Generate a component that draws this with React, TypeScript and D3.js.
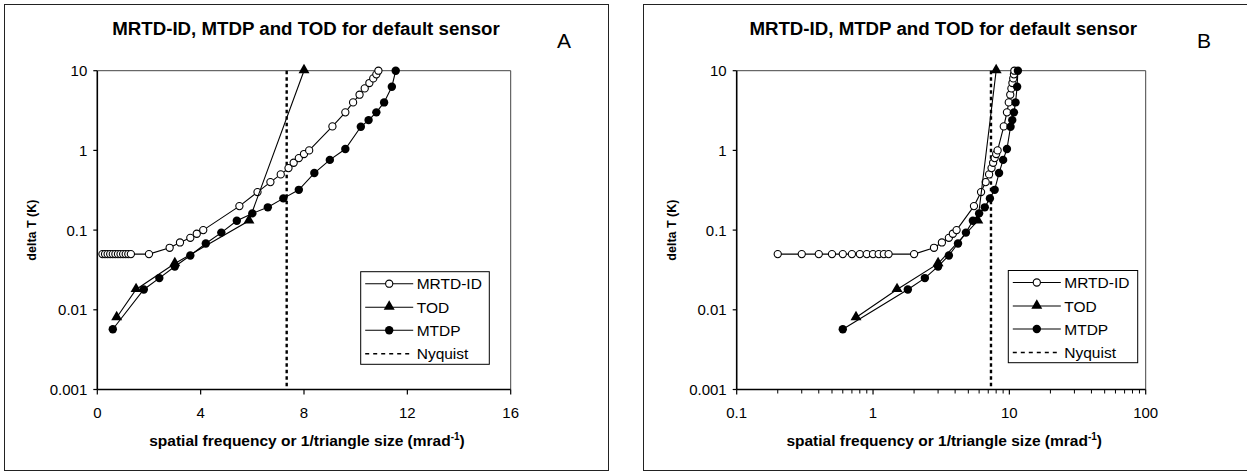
import React from "react";
import * as d3 from "d3";

const mrtdX = [0.2,0.3,0.4,0.5,0.6,0.7,0.8,0.9,1.0,1.1,1.2,1.3,2.0,2.8,3.2,3.6,3.85,4.1,5.5,6.2,6.7,7.1,7.4,7.6,7.8,8.0,8.2,9.1,9.6,9.9,10.15,10.35,10.53,10.68,10.8,10.88];
const mrtdY = [0.05,0.05,0.05,0.05,0.05,0.05,0.05,0.05,0.05,0.05,0.05,0.05,0.05,0.06,0.07,0.08,0.09,0.1,0.2,0.3,0.4,0.5,0.6,0.7,0.8,0.9,1,2,3,4,5,6,7,8,9,10];
const todX = [0.75,1.5,3.0,5.87,8.0];
const todY = [0.008,0.018,0.038,0.131,10];
const mtdpX = [0.6,1.8,2.4,3.0,3.6,4.2,4.8,5.4,6.0,6.6,7.2,7.8,8.4,9.0,9.6,10.2,10.5,10.8,11.1,11.4,11.55];
const mtdpY = [0.0057,0.018,0.025,0.035,0.048,0.068,0.093,0.131,0.162,0.193,0.25,0.32,0.52,0.76,1.04,1.98,2.4,3.0,4.0,6.3,10];
const nyquist = 7.33;
const yTicks = [0.001,0.01,0.1,1,10];
const yTickLabels = ["0.001","0.01","0.1","1","10"];
const linTicks = [0,4,8,12,16];
const logMajor = [0.1,1,10,100];
const logMajorLabels = ["0.1","1","10","100"];
const legendNames = ["MRTD-ID","TOD","MTDP","Nyquist"];
const title = "MRTD-ID, MTDP and TOD for default sensor";

const FONT = "'Liberation Sans', Arial, sans-serif";

function Marker({ kind, x, y }: { kind: string; x: number; y: number }) {
  if (kind === "open") return <circle cx={x} cy={y} r={3.6} fill="#fff" stroke="#000" strokeWidth={1.1} />;
  if (kind === "filled") return <circle cx={x} cy={y} r={4.2} fill="#000" />;
  const p = d3.symbol().type(d3.symbolTriangle).size(52)();
  return <path d={p as string} transform={`translate(${x},${y - 0.5})`} fill="#000" />;
}

function Panel({ logX, plot, frame, legend, letter }: any) {
  const [x0, y0, x1, y1] = plot;
  const x: any = logX ? d3.scaleLog().domain([0.1, 100]).range([x0, x1]) : d3.scaleLinear().domain([0, 16]).range([x0, x1]);
  const y = d3.scaleLog().domain([0.001, 10]).range([y1, y0]);
  const cx = (x0 + x1) / 2;
  const cy = (y0 + y1) / 2;
  const line = d3.line<[number, number]>().x((d) => x(d[0])).y((d) => y(d[1]));
  const series = [
    { xs: mrtdX, ys: mrtdY, kind: "open" },
    { xs: todX, ys: todY, kind: "tri" },
    { xs: mtdpX, ys: mtdpY, kind: "filled" },
  ];
  const minor: number[] = [];
  if (logX) {
    for (const dec of [0.1, 1, 10]) for (let k = 2; k <= 9; k++) minor.push(dec * k);
  }
  const [lx0, ly0, lx1, ly1] = legend;
  const rowYs = [ly0 + 12, ly0 + 35.5, ly0 + 58.5, ly0 + 82];
  const kinds = ["open", "tri", "filled", "dash"];
  return (
    <g>
      <rect x={frame[0]} y={frame[1]} width={frame[2]} height={frame[3]} fill="none" stroke="#222" strokeWidth={1} />
      <text x={cx + 2} y={35} textAnchor="middle" fontFamily={FONT} fontWeight="bold" fontSize={18.7}>{title}</text>
      <text x={letter[0]} y={48} textAnchor="middle" fontFamily={FONT} fontSize={21}>{letter[2]}</text>
      <line x1={x0} y1={y0} x2={x1} y2={y0} stroke="#444" strokeWidth={1} />
      <line x1={x1} y1={y0} x2={x1} y2={y1} stroke="#444" strokeWidth={1} />
      <line x1={x(nyquist)} y1={y0} x2={x(nyquist)} y2={y1} stroke="#000" strokeWidth={2.4} strokeDasharray="3.5,3" />
      {series.map((s, i) => {
        const pts = s.xs.map((v, j) => [v, s.ys[j]] as [number, number]);
        return (
          <g key={i}>
            <path d={line(pts) as string} fill="none" stroke="#000" strokeWidth={1.1} />
            {pts.map((p, j) => <Marker key={j} kind={s.kind} x={x(p[0])} y={y(p[1])} />)}
          </g>
        );
      })}
      <line x1={x0} y1={y0} x2={x0} y2={y1} stroke="#000" strokeWidth={1.6} />
      <line x1={x0} y1={y1} x2={x1} y2={y1} stroke="#000" strokeWidth={1.6} />
      {yTicks.map((t, i) => (
        <g key={i}>
          <line x1={x0 - 4} x2={x0} y1={y(t)} y2={y(t)} stroke="#000" strokeWidth={1.2} />
          <text x={x0 - 10} y={y(t)} dy="0.36em" textAnchor="end" fontFamily={FONT} fontSize={15}>{yTickLabels[i]}</text>
        </g>
      ))}
      {(logX ? logMajor : linTicks).map((t, i) => (
        <g key={i}>
          <line x1={x(t)} x2={x(t)} y1={y1} y2={y1 + 5} stroke="#000" strokeWidth={1.2} />
          <text x={x(t)} y={y1 + 28} textAnchor="middle" fontFamily={FONT} fontSize={15}>{logX ? logMajorLabels[i] : String(t)}</text>
        </g>
      ))}
      {minor.map((t, i) => (
        <line key={i} x1={x(t)} x2={x(t)} y1={y1} y2={y1 + 4} stroke="#000" strokeWidth={1} />
      ))}
      <text transform={`translate(${x0 - 61},${cy}) rotate(-90)`} textAnchor="middle" fontFamily={FONT} fontWeight="bold" fontSize={12.5}>delta T (K)</text>
      <text x={cx + 3} y={446} textAnchor="middle" fontFamily={FONT} fontWeight="bold" fontSize={15.5}>
        spatial frequency or 1/triangle size (mrad<tspan dy={-6} fontSize={10}>-1</tspan><tspan dy={6}>)</tspan>
      </text>
      <rect x={lx0} y={ly0} width={lx1 - lx0} height={ly1 - ly0} fill="#fff" stroke="#000" strokeWidth={1} />
      {legendNames.map((n, i) => {
        const yy = rowYs[i];
        const a = lx0 + 4.5, b = lx0 + 52.5, m = lx0 + 28.5;
        return (
          <g key={i}>
            {kinds[i] === "dash" ? (
              <line x1={a} x2={b} y1={yy} y2={yy} stroke="#000" strokeWidth={1.5} strokeDasharray="4,4" />
            ) : (
              <>
                <line x1={a} x2={b} y1={yy} y2={yy} stroke="#000" strokeWidth={1.1} />
                <Marker kind={kinds[i]} x={m} y={yy} />
              </>
            )}
            <text x={lx0 + 56} y={yy} dy="0.36em" fontFamily={FONT} fontSize={15.5}>{n}</text>
          </g>
        );
      })}
    </g>
  );
}

export default function App() {
  return (
    <svg width={1247} height={472} style={{ position: "absolute", left: 0, top: 0, background: "#fff" }}>
      <rect x={0} y={0} width={1247} height={472} fill="#fff" />
      <Panel logX={false} plot={[97.3, 70.7, 510.7, 389.5]} frame={[4.5, 4.5, 604, 466]} legend={[360.7, 271.7, 489.3, 364.3]} letter={[564, 48, "A"]} />
      <Panel logX={true} plot={[736.7, 70.7, 1145.7, 389.5]} frame={[643.5, 4.5, 640, 466]} legend={[1008.3, 270.5, 1137.7, 362.7]} letter={[1204, 48, "B"]} />
    </svg>
  );
}
